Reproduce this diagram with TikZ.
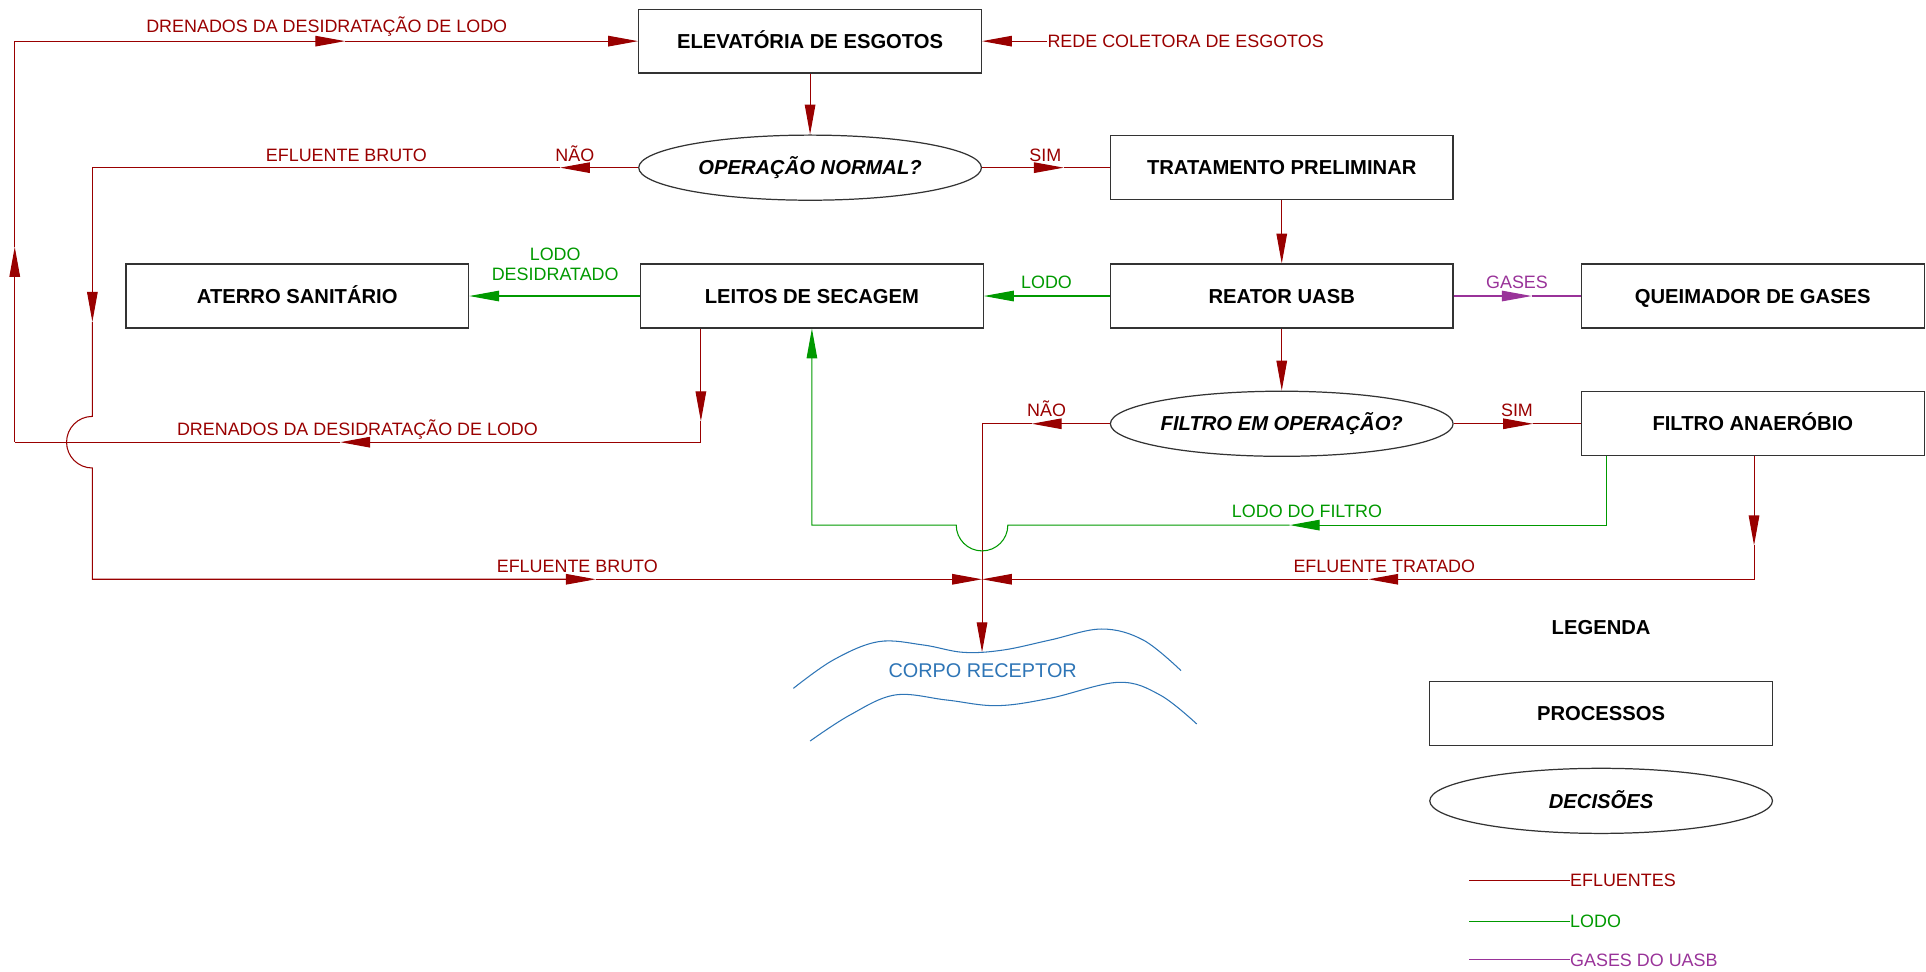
\documentclass[tikz,border=0pt]{standalone}
\usepackage{fontspec}
\setmainfont{Liberation Sans}
\usetikzlibrary{arrows.meta,shapes.geometric}
\definecolor{efred}{HTML}{990000}
\definecolor{lodog}{HTML}{009900}
\definecolor{gasp}{HTML}{993399}
\definecolor{rivb}{HTML}{2E75B6}
\tikzset{
  proc/.style={draw=black!80, line width=0.7pt, minimum width=6.854cm, minimum height=1.277cm, inner sep=0pt,
    font=\fontsize{11.5}{13}\selectfont\bfseries, text height=8.2pt, text depth=0pt},
  dec/.style={ellipse, draw=black!80, line width=0.7pt, minimum width=6.854cm, minimum height=1.302cm, inner sep=0pt,
    font=\fontsize{11.5}{13}\selectfont\bfseries\itshape, text height=8.2pt, text depth=0pt},
  lab/.style={font=\fontsize{10.2}{12}\selectfont, text height=7.3pt, text depth=0pt, inner sep=0pt},
  tip/.style={-{Triangle[length=17pt,width=6pt]}},
  ef/.style={draw=efred, line width=0.6pt},
  efa/.style={ef, tip, fill=none},
  ld/.style={draw=lodog, line width=0.6pt},
  lda/.style={ld, tip},
  gs/.style={draw=gasp, line width=0.6pt},
  gsa/.style={gs, tip},
  riv/.style={draw=rivb, line width=0.6pt},
}
\begin{document}
\begin{tikzpicture}[x=0.024566cm, y=-0.024566cm]
\useasboundingbox (0,0) rectangle (1568,791);
% process boxes
\node[proc] (ELEV) at (659.5,33.5) {ELEVATÓRIA DE ESGOTOS};
\node[dec] (OPNORM) at (659.5,136.5) {OPERAÇÃO NORMAL?};
\node[proc] (TRAT) at (1043.5,136.5) {TRATAMENTO PRELIMINAR};
\node[proc] (ATERRO) at (242,241) {ATERRO SANITÁRIO};
\node[proc] (LEITOS) at (661,241) {LEITOS DE SECAGEM};
\node[proc] (REATOR) at (1043.5,241) {REATOR UASB};
\node[proc] (QUEIM) at (1427,241) {QUEIMADOR DE GASES};
\node[dec] (FILTROP) at (1043.5,345) {FILTRO EM OPERAÇÃO?};
\node[proc] (FANAER) at (1427,345) {FILTRO ANAERÓBIO};
% coordinates
\coordinate (tl) at (12,33.5);
\coordinate (bl) at (12,360);
\coordinate (upA) at (12,201);
\coordinate (topA) at (281,33.5);
\coordinate (ldA) at (570.6,343);
\coordinate (ldc) at (570.6,360);
\coordinate (ldB) at (277,360);
\coordinate (naoA) at (456,136.5);
\coordinate (nc1) at (75.2,136.5);
\coordinate (ndA) at (75.2,262);
\coordinate (arcT) at (75.2,339);
\coordinate (nc2) at (75.2,471.6);
\coordinate (ebA) at (485,471.6);
\coordinate (J) at (799.5,471.6);
\coordinate (simA) at (866,136.5);
\coordinate (gasA) at (1247,241);
\coordinate (sim2A) at (1248,345);
\coordinate (nao2A) at (840,345);
\coordinate (nc3) at (799.5,345);
\coordinate (rivpt) at (799.5,531);
\coordinate (g2) at (1308,427.5);
\coordinate (gA) at (1050,427.5);
\coordinate (garcR) at (820.5,427.5);
\coordinate (g3) at (661,427.5);
\coordinate (tA) at (1428,444);
\coordinate (t2) at (1428,471.6);
\coordinate (tB) at (1114,471.6);
% rede coletora
\node[lab, anchor=west, text=efred] (rede) at (852.5,33.5) {REDE COLETORA DE ESGOTOS};
\draw[efa] (rede.west) -- (ELEV.east);
% drenados loop
\draw[efa] (LEITOS.south -| ldA) -- (ldA);
\draw[efa] (ldA) -- (ldc) -- (ldB);
\draw[ef] (ldB) -- (bl);
\draw[efa] (bl) -- (upA);
\draw[efa] (upA) -- (tl) -- (topA);
\draw[efa] (topA) -- (ELEV.west);
% main line
\draw[efa] (ELEV.south) -- (OPNORM.north);
\draw[efa] (OPNORM.east) -- (simA);
\draw[ef] (simA) -- (TRAT.west);
\draw[efa] (TRAT.south) -- (REATOR.north);
\draw[efa] (REATOR.south) -- (FILTROP.north);
\draw[efa] (FILTROP.east) -- (sim2A);
\draw[ef] (sim2A) -- (FANAER.west);
% nao (bypass)
\draw[efa] (OPNORM.west) -- (naoA);
\draw[efa] (naoA) -- (nc1) -- (ndA);
\draw[efa] (ndA) -- (arcT) arc[start angle=90, end angle=270, radius=0.516cm] -- (nc2) -- (ebA);
\draw[efa] (ebA) -- (J);
% filtro nao
\draw[efa] (FILTROP.west) -- (nao2A);
\draw[efa] (nao2A) -- (nc3) -- (rivpt);
% tratado
\draw[efa] (FANAER.south -| tA) -- (tA);
\draw[efa] (tA) -- (t2) -- (tB);
\draw[efa] (tB) -- (J);
% lodo
\draw[lda] (REATOR.west) -- (LEITOS.east);
\draw[lda] (LEITOS.west) -- (ATERRO.east);
\draw[lda] (FANAER.south -| g2) -- (g2) -- (gA);
\draw[lda] (gA) -- (garcR) arc[start angle=0, end angle=-180, radius=0.516cm] -- (g3) -- (LEITOS.south);
% gases
\draw[gsa] (REATOR.east) -- (gasA);
\draw[gs] (gasA) -- (QUEIM.west);
% labels
\node[lab, text=efred] at (266,21) {DRENADOS DA DESIDRATAÇÃO DE LODO};
\node[lab, text=efred] at (282,126.5) {EFLUENTE BRUTO};
\node[lab, text=efred] at (468,126.5) {NÃO};
\node[lab, text=efred] at (851,126.5) {SIM};
\node[lab, text=lodog] at (852,229.5) {LODO};
\node[font=\fontsize{10.2}{11.5}\selectfont, text=lodog, align=center, inner sep=0pt] at (452,215.3) {LODO\\DESIDRATADO};
\node[lab, text=gasp] at (1235,229.5) {GASES};
\node[lab, text=efred] at (852,334) {NÃO};
\node[lab, text=efred] at (1235,334) {SIM};
\node[lab, text=efred] at (291,349) {DRENADOS DA DESIDRATAÇÃO DE LODO};
\node[lab, text=lodog] at (1064,416) {LODO DO FILTRO};
\node[lab, text=efred] at (470,461) {EFLUENTE BRUTO};
\node[lab, text=efred] at (1127,461) {EFLUENTE TRATADO};
% river
\draw[riv] plot[smooth, tension=0.6] coordinates {(645.9,560.4) (678.4,537.3) (715.1,522.4) (751.7,525.1) (784.3,531.1) (816.8,529.2) (854.8,521.1) (896.9,512.1) (930.8,521.1) (961.5,546.0)};
\draw[riv] plot[smooth, tension=0.6] coordinates {(659.5,603.3) (692.0,582.1) (728.7,565.8) (770.7,569.9) (811.4,574.5) (854.8,568.5) (910.5,555.5) (944.4,565.8) (974.3,589.4)};
\node[font=\fontsize{11.3}{13}\selectfont, text=rivb, text height=8.1pt, text depth=0pt, inner sep=0pt] at (800,545.5) {CORPO RECEPTOR};
% legend
\node[font=\fontsize{11.5}{13}\selectfont\bfseries, text height=8.2pt, text depth=0pt, inner sep=0pt] at (1303.5,511) {LEGENDA};
\node[proc] (PROC) at (1303.5,581) {PROCESSOS};
\node[dec] (DECIS) at (1303.5,652) {DECISÕES};
\coordinate (le1) at (1196,716.5);
\coordinate (le2) at (1196,750);
\coordinate (le3) at (1196,781.5);
\node[lab, anchor=west, text=efred] (leg1) at (1278,716.5) {EFLUENTES};
\node[lab, anchor=west, text=lodog] (leg2) at (1278,750) {LODO};
\node[lab, anchor=west, text=gasp] (leg3) at (1278,781.5) {GASES DO UASB};
\draw[ef] (le1) -- (leg1.west);
\draw[ld] (le2) -- (leg2.west);
\draw[gs] (le3) -- (leg3.west);
\end{tikzpicture}
\end{document}
